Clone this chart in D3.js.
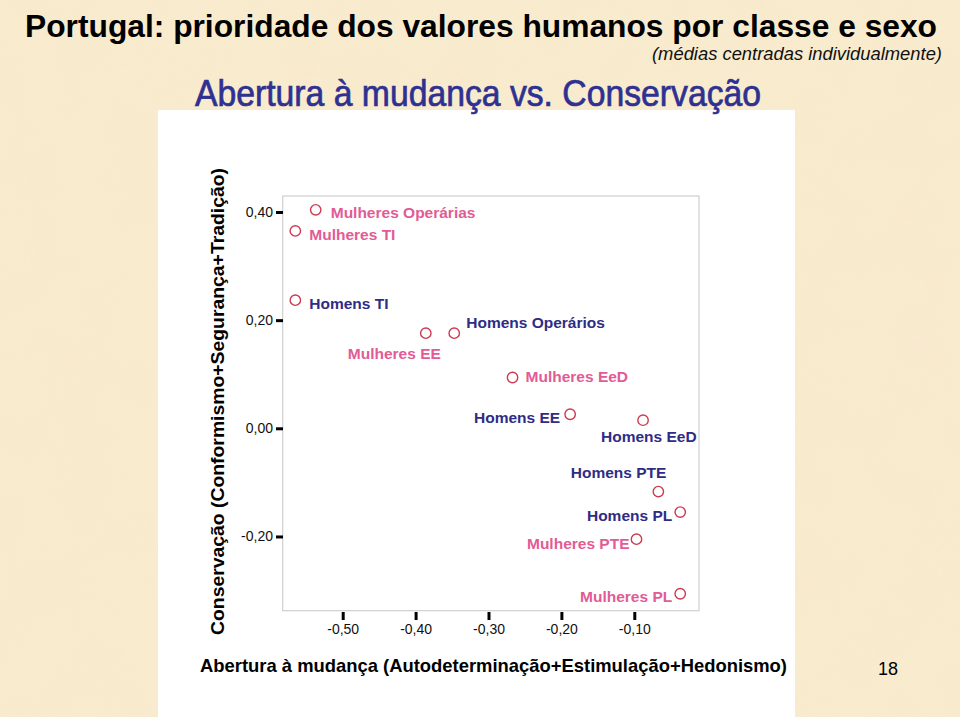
<!DOCTYPE html>
<html><head><meta charset="utf-8">
<script src="https://cdn.jsdelivr.net/npm/d3@7"></script>
<style>body{margin:0;background:#f7e8c8;} svg{display:block}</style>
</head><body>
<svg id="c" width="960" height="717"></svg>
<script>
// ---- data ----
const groups = ["Mulheres Operárias","Mulheres TI","Homens TI","Mulheres EE","Homens Operários","Mulheres EeD","Homens EE","Homens EeD","Homens PTE","Homens PL","Mulheres PTE","Mulheres PL"];
const sexes = ["F","F","M","F","M","F","M","M","M","M","F","F"];
const opennessValues = [-0.537,-0.565,-0.565,-0.386,-0.347,-0.267,-0.188,-0.088,-0.067,-0.037,-0.097,-0.037];
const conservationValues = [0.404,0.365,0.237,0.176,0.176,0.094,0.026,0.015,-0.117,-0.155,-0.205,-0.306];
const xTicks = [-0.5,-0.4,-0.3,-0.2,-0.1];
const yTicks = [0.4,0.2,0,-0.2];
const titleText = "Portugal: prioridade dos valores humanos por classe e sexo";
const subtitleText = "(médias centradas individualmente)";
const chartTitle = "Abertura à mudança vs. Conservação";
const xTitle = "Abertura à mudança (Autodeterminação+Estimulação+Hedonismo)";
const yTitle = "Conservação (Conformismo+Segurança+Tradição)";
const pageNumber = "18";

// ---- label layout (annotation offsets, px) ----
const labelDx = [15,14,14,-78,12,13,-10,-42,8,-8,-7,-8];
const labelDy = [8,9,9,26,-5,5,9,22,-13.5,9,10,8];
const labelAnchor = ["start","start","start","start","start","start","end","start","end","end","end","end"];

const svg = d3.select("#c");
const defs = svg.append("defs");
const f = defs.append("filter").attr("id","paper").attr("x",0).attr("y",0).attr("width","100%").attr("height","100%");
f.append("feTurbulence").attr("type","fractalNoise").attr("baseFrequency","0.018").attr("numOctaves",4).attr("seed",7).attr("result","n");
f.append("feColorMatrix").attr("in","n").attr("type","matrix")
 .attr("values","0 0 0 0 0.93  0 0 0 0 0.80  0 0 0 0 0.62  0 0 0 1.1 -0.35");

svg.append("rect").attr("width",960).attr("height",717).attr("fill","#f9ebcd");
svg.append("rect").attr("width",960).attr("height",717).attr("filter","url(#paper)").attr("opacity",0.6);

// white panel
svg.append("rect").attr("x",158).attr("y",110).attr("width",637).attr("height",607).attr("fill","#ffffff");

const font = "'Liberation Sans', Arial, Helvetica, sans-serif";

svg.append("text").attr("x",25).attr("y",37).attr("font-family",font).attr("font-weight","bold")
  .attr("font-size",32).attr("textLength",912).attr("lengthAdjust","spacingAndGlyphs").attr("fill","#000").text(titleText);
svg.append("text").attr("x",942).attr("y",60).attr("text-anchor","end").attr("font-family",font).attr("font-style","italic")
  .attr("font-size",18).attr("textLength",290).attr("lengthAdjust","spacingAndGlyphs").attr("fill","#111").text(subtitleText);
svg.append("text").attr("x",195).attr("y",106).attr("font-family",font)
  .attr("font-size",36).attr("textLength",566).attr("lengthAdjust","spacingAndGlyphs")
  .attr("fill","#2e3192").attr("stroke","#2e3192").attr("stroke-width",0.7).text(chartTitle);

// scales
const x = d3.scaleLinear().domain([-0.5823,-0.01125]).range([282.7,699]);
const y = d3.scaleLinear().domain([0.4296,-0.3373]).range([196,610.7]);

// frame
svg.append("rect").attr("x",x.range()[0]).attr("y",y.range()[0])
  .attr("width",x.range()[1]-x.range()[0]).attr("height",y.range()[1]-y.range()[0])
  .attr("fill","none").attr("stroke","#cfcfcf").attr("stroke-width",1.2);

const fmt = d => d3.format(".2f")(d).replace(".",",").replace("−","-");

const ya = svg.append("g").attr("transform","translate(283,0)")
  .call(d3.axisLeft(y).tickValues(yTicks).tickFormat(fmt).tickSize(7).tickPadding(3));
const xa = svg.append("g").attr("transform","translate(0,612)")
  .call(d3.axisBottom(x).tickValues(xTicks).tickFormat(fmt).tickSize(8).tickPadding(4));
[ya,xa].forEach(g=>{
  g.attr("font-size",null).attr("font-family",null);
  g.select(".domain").remove();
  g.selectAll(".tick line").attr("stroke","#000").attr("stroke-width",3);
  g.selectAll(".tick text").style("font-family",font).style("font-size","14px").attr("fill","#111");
});

// points
const data = groups.map((g,i)=>({name:g,sex:sexes[i],x:opennessValues[i],y:conservationValues[i],dx:labelDx[i],dy:labelDy[i],anchor:labelAnchor[i]}));
const pts = svg.append("g");
pts.selectAll("circle").data(data).join("circle")
  .attr("cx",d=>x(d.x)).attr("cy",d=>y(d.y)).attr("r",5.2)
  .attr("fill","none").attr("stroke","#cc3a50").attr("stroke-width",1.4);
pts.selectAll("text").data(data).join("text")
  .attr("x",d=>x(d.x)+d.dx).attr("y",d=>y(d.y)+d.dy).attr("text-anchor",d=>d.anchor)
  .attr("font-family",font).attr("font-weight","bold").attr("font-size",15.5)
  .attr("fill",d=>d.sex==="F"?"#e25b95":"#2f2c85").text(d=>d.name);

// axis titles
svg.append("text").attr("x",200).attr("y",672).attr("font-family",font).attr("font-weight","bold")
  .attr("font-size",19).attr("textLength",587).attr("lengthAdjust","spacingAndGlyphs").attr("fill","#000").text(xTitle);
svg.append("text").attr("transform","translate(224,635) rotate(-90)").attr("font-family",font).attr("font-weight","bold")
  .attr("font-size",19).attr("textLength",467).attr("lengthAdjust","spacingAndGlyphs").attr("fill","#000").text(yTitle);

svg.append("text").attr("x",888).attr("y",675).attr("text-anchor","middle").attr("font-family",font)
  .attr("font-size",18).attr("fill","#000").text(pageNumber);
</script>
</body></html>
